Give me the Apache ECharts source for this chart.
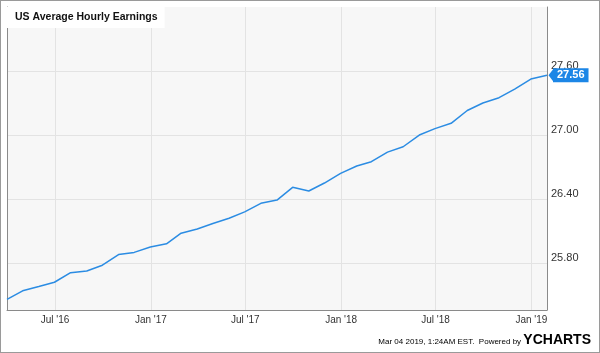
<!DOCTYPE html>
<html>
<head>
<meta charset="utf-8">
<script src="https://cdn.jsdelivr.net/npm/echarts@6/dist/echarts.min.js"></script>
<style>
  html, body { margin: 0; padding: 0; background: #fff; }
  #chart { width: 600px; height: 353px; box-sizing: border-box; border: 1px solid #9a9a9a; }
</style>
</head>
<body>
<div id="chart"></div>
<script>
// month-end dates of the series
const months = [
  '2016-03-31', '2016-04-30', '2016-05-31', '2016-06-30', '2016-07-31', '2016-08-31',
  '2016-09-30', '2016-10-31', '2016-11-30', '2016-12-31', '2017-01-31', '2017-02-28',
  '2017-03-31', '2017-04-30', '2017-05-31', '2017-06-30', '2017-07-31', '2017-08-31',
  '2017-09-30', '2017-10-31', '2017-11-30', '2017-12-31', '2018-01-31', '2018-02-28',
  '2018-03-31', '2018-04-30', '2018-05-31', '2018-06-30', '2018-07-31', '2018-08-31',
  '2018-09-30', '2018-10-31', '2018-11-30', '2018-12-31', '2019-01-31'
];
// US average hourly earnings, USD
const earnings = [
  25.46, 25.54, 25.58, 25.62, 25.71, 25.725,
  25.78, 25.88, 25.90, 25.95, 25.98, 26.08,
  26.12, 26.17, 26.22, 26.28, 26.36, 26.39,
  26.51, 26.475, 26.55, 26.64, 26.71, 26.75,
  26.84, 26.89, 27.00, 27.06, 27.11, 27.23,
  27.30, 27.35, 27.43, 27.525, 27.56
];
const xTickDates = ['2016-07-01', '2017-01-01', '2017-07-01', '2018-01-01', '2018-07-01', '2019-01-01'];
const xTickLabels = ["Jul '16", "Jan '17", "Jul '17", "Jan '18", "Jul '18", "Jan '19"];
const yTicks = [25.8, 26.4, 27.0, 27.6];

const ts = s => echarts.number.parseDate(s).getTime();
const xTickValues = xTickDates.map(ts);
const seriesData = months.map((m, i) => [ts(m), earnings[i]]);

const font = 'Liberation Sans, Arial, Helvetica, sans-serif';
const chart = echarts.init(document.getElementById('chart'));
chart.setOption({
  animation: false,
  backgroundColor: '#fff',
  title: {
    text: 'US Average Hourly Earnings',
    left: 6,
    top: 6,
    padding: [5, 7, 5, 8],
    backgroundColor: '#fff',
    textStyle: { fontFamily: font, fontSize: 10.5, fontWeight: 'bold', color: '#111' }
  },
  grid: {
    left: 6, right: 52, top: 6, bottom: 42,
    show: true, backgroundColor: '#f7f7f7', borderWidth: 0
  },
  xAxis: {
    type: 'value',
    min: ts(months[0]),
    max: ts(months[months.length - 1]),
    axisLine: { show: true, lineStyle: { color: '#8a8a8a', width: 1 } },
    axisTick: { show: false, customValues: xTickValues },
    splitLine: { show: true, lineStyle: { color: '#e3e3e3', width: 1 } },
    axisLabel: {
      customValues: xTickValues,
      margin: 5,
      fontFamily: font, fontSize: 10, color: '#333',
      formatter: v => {
        const i = xTickValues.indexOf(v);
        return i >= 0 ? xTickLabels[i] : '';
      }
    }
  },
  yAxis: [{
    type: 'value',
    position: 'right',
    min: 25.36,
    max: 28.2,
    axisLine: { show: true, lineStyle: { color: '#8a8a8a', width: 1 } },
    axisTick: { show: false, customValues: yTicks },
    splitLine: { show: true, lineStyle: { color: '#e3e3e3', width: 1 } },
    axisLabel: {
      customValues: yTicks,
      margin: 4,
      verticalAlign: 'bottom',
      fontFamily: font, fontSize: 11, color: '#333',
      formatter: v => v.toFixed(2)
    }
  }, {
    type: 'value',
    position: 'left',
    min: 25.36,
    max: 28.2,
    axisLine: { show: true, lineStyle: { color: '#8a8a8a', width: 1 } },
    axisTick: { show: false },
    splitLine: { show: false },
    axisLabel: { show: false }
  }],
  series: [{
    type: 'line',
    data: seriesData,
    showSymbol: false,
    clip: false,
    lineStyle: { color: '#2b8ce3', width: 1.5 },
    itemStyle: { color: '#2b8ce3' },
    endLabel: {
      show: true,
      distance: 6,
      formatter: p => p.value[1].toFixed(2),
      backgroundColor: '#1c86e6',
      color: '#fff',
      fontFamily: font, fontSize: 11, fontWeight: 'bold',
      padding: [2, 4, 1, 4]
    },
    markPoint: {
      silent: true,
      symbol: 'path://M0,6 L5,0 L5,12 Z',
      symbolSize: [5, 13],
      symbolOffset: [4, 0],
      itemStyle: { color: '#1c86e6' },
      label: { show: false },
      data: [{ coord: seriesData[seriesData.length - 1] }]
    }
  }],
  graphic: [{
    type: 'text',
    right: 8,
    bottom: 5,
    style: {
      text: '{a|Mar 04 2019, 1:24AM EST.  Powered by }{y|Y}{c|CHARTS}',
      rich: {
        a: { fontFamily: font, fontSize: 8, color: '#333', verticalAlign: 'bottom', padding: [0, 0, 1, 0] },
        y: { fontFamily: font, fontSize: 14, fontWeight: 'bold', color: '#1a8be8' },
        c: { fontFamily: font, fontSize: 14, fontWeight: 'bold', color: '#1b2a47' }
      }
    }
  }]
});
</script>
</body>
</html>
